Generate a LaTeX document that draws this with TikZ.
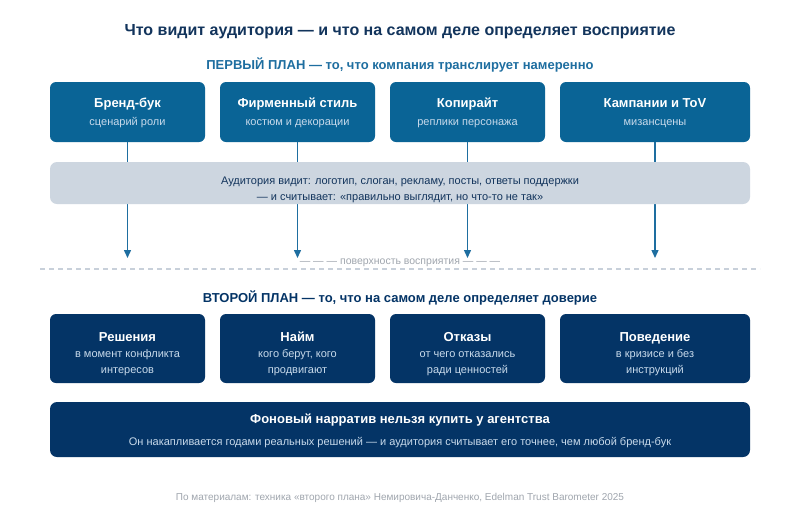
\documentclass[tikz,border=0pt]{standalone}
\usepackage{fontspec}
\setmainfont{Liberation Sans}
\usetikzlibrary{arrows.meta}
\definecolor{navy}{RGB}{18,52,92}
\definecolor{fgblue}{RGB}{10,100,150}
\definecolor{bgnavy}{RGB}{4,52,102}
\definecolor{band}{RGB}{205,214,224}
\definecolor{subblue}{RGB}{30,110,160}
\definecolor{lighttxt}{RGB}{200,218,235}
\definecolor{greytxt}{RGB}{160,166,174}
\definecolor{dashc}{RGB}{200,208,218}
\tikzset{
  fgbox/.style={fill=fgblue, rounded corners=6pt, draw=none, minimum height=60pt, inner sep=0pt},
  bgbox/.style={fill=bgnavy, rounded corners=6pt, draw=none, minimum height=69pt, inner sep=0pt},
  boxtitle/.style={text=white, font=\bfseries\fontsize{13}{15}\selectfont},
  boxsub/.style={text=lighttxt, font=\fontsize{11}{16}\selectfont, align=center},
  conn/.style={draw=subblue, line width=1.4pt},
  arr/.style={conn, -{Triangle[length=8pt,width=7pt]}},
}
\begin{document}
\begin{tikzpicture}[x=1pt,y=-1pt]
\useasboundingbox (0,0) rectangle (800,520);
\fill[white] (0,0) rectangle (800,520);
% titles
\node[text=navy, font=\bfseries\fontsize{16}{19}\selectfont] (title) at (400,32) {Что видит аудитория — и что на самом деле определяет восприятие};
\node[text=subblue, font=\bfseries\fontsize{13}{15}\selectfont] (fgtitle) at (400,64.5) {ПЕРВЫЙ ПЛАН — то, что компания транслирует намеренно};
% top boxes
\foreach \n/\xa/\xb/\t/\s in {1/50/205/Бренд-бук/сценарий роли, 2/220/375/Фирменный стиль/костюм и декорации, 3/390/545/Копирайт/реплики персонажа, 4/560/750/Кампании и ToV/мизансцены}{
  \node[fgbox, minimum width={(\xb-\xa)*1pt}] (fb\n) at ({(\xa+\xb)/2},112) {};
  \node[boxtitle, anchor=base] (ft\n) at ({(\xa+\xb)/2},107.5) {\t};
  \node[boxsub, anchor=base] (fs\n) at ({(\xa+\xb)/2},125) {\s};
  \coordinate (fend\n) at ({(\xa+\xb)/2},258);
  \draw[arr] (fb\n.south) -- (fend\n);
}
% band
\node[fill=band, rounded corners=7pt, minimum width=700pt, minimum height=42pt, inner sep=0pt] (band) at (400,183) {};
\node[text=navy, font=\fontsize{11}{16}\selectfont, align=center] (bandtxt) at (400,190) {Аудитория видит: логотип, слоган, рекламу, посты, ответы поддержки\\— и считывает: «правильно выглядит, но что-то не так»};
% surface
\node[text=greytxt, font=\fontsize{10.5}{12}\selectfont, fill=white, inner sep=1pt] (surf) at (400,262.5) {— — — поверхность восприятия — — —};
\coordinate (dl) at (40,269);
\coordinate (dr) at (760,269);
\draw[dashc, line width=1.2pt, dash pattern=on 5pt off 4pt] (dl) -- (dr);
% second plan
\node[text=bgnavy, font=\bfseries\fontsize{13}{15}\selectfont] (bgtitle) at (400,297.5) {ВТОРОЙ ПЛАН — то, что на самом деле определяет доверие};
\foreach \n/\xa/\xb/\t/\sa/\sb in {1/50/205/Решения/в момент конфликта/интересов, 2/220/375/Найм/{кого берут, кого}/продвигают, 3/390/545/Отказы/от чего отказались/ради ценностей, 4/560/750/Поведение/в кризисе и без/инструкций}{
  \node[bgbox, minimum width={(\xb-\xa)*1pt}] (bb\n) at ({(\xa+\xb)/2},348.5) {};
  \node[boxtitle, anchor=base] (bt\n) at ({(\xa+\xb)/2},341.5) {\t};
  \node[boxsub, anchor=base] (bs\n) at ({(\xa+\xb)/2},357.5) {\sa};
  \node[boxsub, anchor=base] (bu\n) at ({(\xa+\xb)/2},373.5) {\sb};
}
% bottom box
\node[fill=bgnavy, rounded corners=7pt, minimum width=700pt, minimum height=55pt, inner sep=0pt] (narr) at (400,429.5) {};
\node[boxtitle] (nt) at (400,420.5) {Фоновый нарратив нельзя купить у агентства};
\node[text=lighttxt, font=\fontsize{11}{13}\selectfont] (ns) at (400,443) {Он накапливается годами реальных решений — и аудитория считывает его точнее, чем любой бренд-бук};
% footer
\node[text=greytxt, font=\fontsize{10}{12}\selectfont] (foot) at (400,497.5) {По материалам: техника «второго плана» Немировича-Данченко, Edelman Trust Barometer 2025};
\end{tikzpicture}
\end{document}
